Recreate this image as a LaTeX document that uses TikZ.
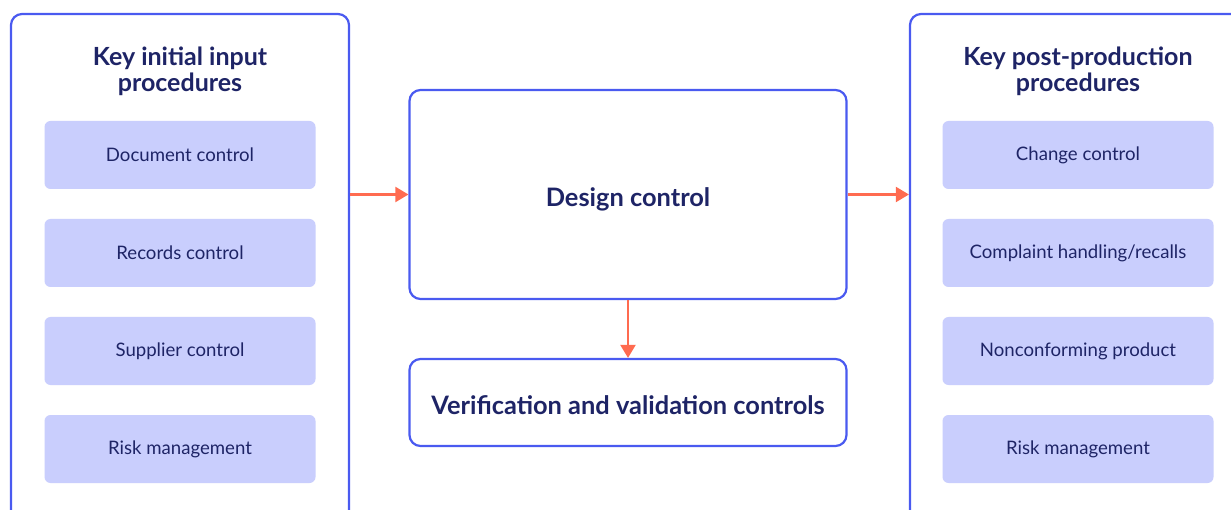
\documentclass[tikz,border=0pt]{standalone}
\usepackage{fontspec}
\setmainfont{Lato}
\usetikzlibrary{arrows.meta,positioning}

\definecolor{frameblue}{HTML}{4A5AF0}
\definecolor{stepfill}{HTML}{C9CEFD}
\definecolor{inknavy}{HTML}{1E2466}
\definecolor{flowred}{HTML}{FF6B50}

\tikzset{
  panel/.style={draw=frameblue, line width=2.2pt, rounded corners=11pt, fill=white,
    minimum width=338pt, minimum height=530pt},
  paneltitle/.style={text=inknavy, font=\fontsize{25}{26}\selectfont\bfseries, align=center},
  stepbox/.style={fill=stepfill, rounded corners=6pt, minimum width=271pt, minimum height=68pt,
    text=inknavy, font=\fontsize{18.6}{20}\selectfont},
  stagebox/.style={draw=frameblue, line width=2.2pt, rounded corners=11pt, minimum width=437pt,
    text=inknavy, font=\fontsize{25.4}{28}\selectfont\bfseries, text depth=0pt},
  flow/.style={draw=flowred, line width=2.2pt, -{Triangle[length=13pt,width=15pt]}}
}

\begin{document}
\begin{tikzpicture}[x=1pt, y=-1pt]
  \useasboundingbox (0,0) rectangle (1231,510);
  % outer panels run past the bottom edge
  \node[panel] (inputs) at (180,279) {};
  \node[panel] (post) at (1079,279) {};
  \node[paneltitle] (inputs title) at (180,71) {Key initial input\\procedures};
  \node[paneltitle] (post title) at (1078,71) {Key post-production\\procedures};
  % the four steps in each panel
  \foreach \y/\txt/\nm in {155/Document control/doc, 253/Records control/rec,
                           351/Supplier control/sup, 449/Risk management/risk}
    \node[stepbox] (in-\nm) at (180,\y) {\txt};
  \foreach \y/\txt/\nm in {155/Change control/chg, 253/{Complaint handling/recalls}/cmp,
                           351/Nonconforming product/ncp, 449/Risk management/risk}
    \node[stepbox] (post-\nm) at (1078,\y) {\txt};
  % middle column
  \node[stagebox, minimum height=209pt, text height=24pt] (design) at (628,194.5) {Design control};
  \node[stagebox, minimum height=87pt, text height=23pt] (verify) at (628,402.5) {Verification and validation controls};
  \draw[flow] (design.west -| inputs.east) -- (design.west);
  \draw[flow] (design.east) -- (design.east -| post.west);
  \draw[flow] (design.south) -- (verify.north);
\end{tikzpicture}
\end{document}
